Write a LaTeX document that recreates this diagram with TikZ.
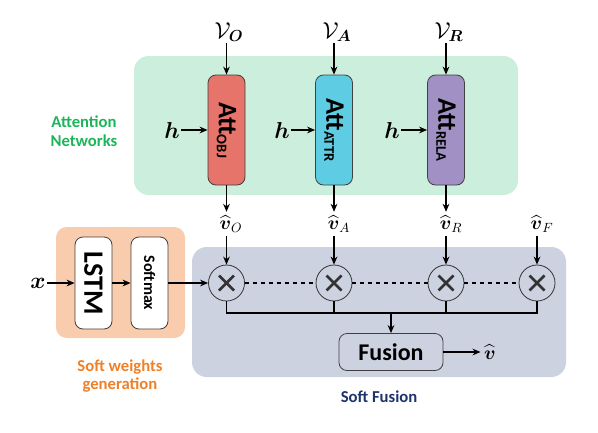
\documentclass[tikz,border=0pt]{standalone}
\usepackage{fontspec}
\setmainfont{Carlito}
\usepackage{amsmath}
\usepackage{graphicx}
\usetikzlibrary{arrows.meta}

\definecolor{netgreen}{RGB}{204,238,220}
\definecolor{softorange}{RGB}{248,204,172}
\definecolor{fusegray}{RGB}{205,210,224}
\definecolor{objred}{RGB}{230,116,106}
\definecolor{attrcyan}{RGB}{94,205,228}
\definecolor{relapurple}{RGB}{160,144,196}
\definecolor{titlegreen}{RGB}{30,180,90}
\definecolor{titleorange}{RGB}{240,128,40}
\definecolor{titleblue}{RGB}{30,50,110}

\newcommand{\atttext}[1]{\rotatebox{-90}{\fontsize{20}{20}\selectfont\bfseries Att\raisebox{-0.15ex}{\fontsize{11}{11}\selectfont #1}}}

\tikzset{every picture/.style={line width=0.75pt}}

\begin{document}
\begin{tikzpicture}[x=0.75pt,y=0.75pt,yscale=-1,xscale=1,
  arr/.style={-{Stealth[length=6pt,width=5pt]}, line width=1.1pt},
  attbox/.style={draw=black!75, rounded corners=6pt, minimum width=27.75pt, minimum height=82.5pt, inner sep=0pt, line width=0.6pt},
  smallbox/.style={draw=black!75, fill=white, rounded corners=6pt, minimum width=27.75pt, minimum height=69pt, inner sep=0pt, line width=0.6pt},
  mul/.style={circle, draw=black!80, minimum size=27pt, inner sep=0pt, line width=0.6pt,
    path picture={\draw [line width=1.9pt] (path picture bounding box.center) ++(-7.5,-7.5) -- ++(15,15);
                  \draw [line width=1.9pt] (path picture bounding box.center) ++(-7.5,7.5) -- ++(15,-15);}},
  mathlbl/.style={inner sep=0.75pt, font=\fontsize{17}{17}\selectfont},
  hatlbl/.style={inner sep=0.75pt, outer sep=2pt, font=\fontsize{14}{14}\selectfont},
  title/.style={inner sep=0.75pt, align=center, font=\fontsize{12.5}{14}\selectfont\bfseries}]
\useasboundingbox (0,0) rectangle (598,432);

%Shape: Rectangle [id:attention background]
\fill [netgreen, rounded corners=11pt] (134,56) rectangle (518,195);
%Shape: Rectangle [id:soft weights background]
\fill [softorange, rounded corners=8pt] (56,227) rectangle (185,338);
%Shape: Rectangle [id:soft fusion background]
\fill [fusegray, rounded corners=11pt] (192,247) rectangle (566,377);

% Attention modules
\node [attbox, fill=objred] (objbox) at (226.5,130) {\atttext{OBJ}};
\node [attbox, fill=attrcyan] (attrbox) at (334,130) {\atttext{ATTR}};
\node [attbox, fill=relapurple] (relabox) at (446,130) {\atttext{RELA}};

% Text Node
\node [mathlbl] (vobj) at (229,32) {$\mathcal{V}_{\boldsymbol{O}}$};
\node [mathlbl] (vattr) at (337,32) {$\mathcal{V}_{\boldsymbol{A}}$};
\node [mathlbl] (vrela) at (449,32) {$\mathcal{V}_{\boldsymbol{R}}$};
\node [mathlbl] (hobj) at (172,130) {$\boldsymbol{h}$};
\node [mathlbl] (hattr) at (282,130) {$\boldsymbol{h}$};
\node [mathlbl] (hrela) at (392,130) {$\boldsymbol{h}$};

\draw [arr] (vobj.south -| objbox) -- (objbox);
\draw [arr] (vattr.south -| attrbox) -- (attrbox);
\draw [arr] (vrela.south -| relabox) -- (relabox);
\draw [arr] (hobj) -- (objbox);
\draw [arr] (hattr) -- (attrbox);
\draw [arr] (hrela) -- (relabox);

% Text Node
\node [title, text=titlegreen] (attnets) at (84,131) {Attention\\Networks};

% Soft weights generation
\node [mathlbl] (xin) at (38,283) {$\boldsymbol{x}$};
\node [smallbox] (lstm) at (93.5,283) {\rotatebox{-90}{\fontsize{21}{21}\selectfont\bfseries LSTM}};
\node [smallbox] (softmax) at (149.5,283) {\rotatebox{-90}{\fontsize{12}{12}\selectfont\bfseries Softmax}};
\draw [arr] (xin) -- (lstm);
\draw [arr] (lstm) -- (softmax);
\node [title, text=titleorange] (swgen) at (120,376) {Soft weights\\generation};

% Soft fusion
\node [mul] (mulobj) at (226.5,283) {};
\node [mul] (mulattr) at (334,283) {};
\node [mul] (mulrela) at (446,283) {};
\node [mul] (mulf) at (537,283) {};

\node [hatlbl] (vhobj) at (231,224) {$\widehat{\boldsymbol{v}}_{O}$};
\node [hatlbl] (vhattr) at (339,224) {$\widehat{\boldsymbol{v}}_{A}$};
\node [hatlbl] (vhrela) at (451,224) {$\widehat{\boldsymbol{v}}_{R}$};
\node [hatlbl] (vhf) at (542,224) {$\widehat{\boldsymbol{v}}_{F}$};

\draw [arr] (objbox.south) -- (objbox.south |- vhobj.north);
\draw [arr] (attrbox.south) -- (attrbox.south |- vhattr.north);
\draw [arr] (relabox.south) -- (relabox.south |- vhrela.north);
\draw [arr] (vhobj.south -| mulobj) -- (mulobj);
\draw [arr] (vhattr.south -| mulattr) -- (mulattr);
\draw [arr] (vhrela.south -| mulrela) -- (mulrela);
\draw [arr] (vhf.south -| mulf) -- (mulf);

\draw [arr] (softmax) -- (mulobj);
\draw [dashed, line width=1.1pt] (mulobj) -- (mulattr) -- (mulrela) -- (mulf);

\coordinate (bus) at (391,313);
\node [draw=black!75, rounded corners=6pt, minimum width=78pt, minimum height=27.75pt, inner sep=0pt, line width=0.6pt, font=\fontsize{18}{18}\selectfont\bfseries] (fusion) at (391,352) {Fusion};
\draw [line width=1.1pt] (mulobj.south) |- (bus) -| (mulf.south);
\draw [line width=1.1pt] (mulattr.south) -- (mulattr.south |- bus);
\draw [line width=1.1pt] (mulrela.south) -- (mulrela.south |- bus);
\draw [arr] (bus) -- (fusion);
\node [hatlbl] (vhat) at (490,352) {$\widehat{\boldsymbol{v}}$};
\draw [arr] (fusion) -- (vhat);

% Text Node
\node [title, text=titleblue] (softfusion) at (379,397) {Soft Fusion};

\end{tikzpicture}
\end{document}
